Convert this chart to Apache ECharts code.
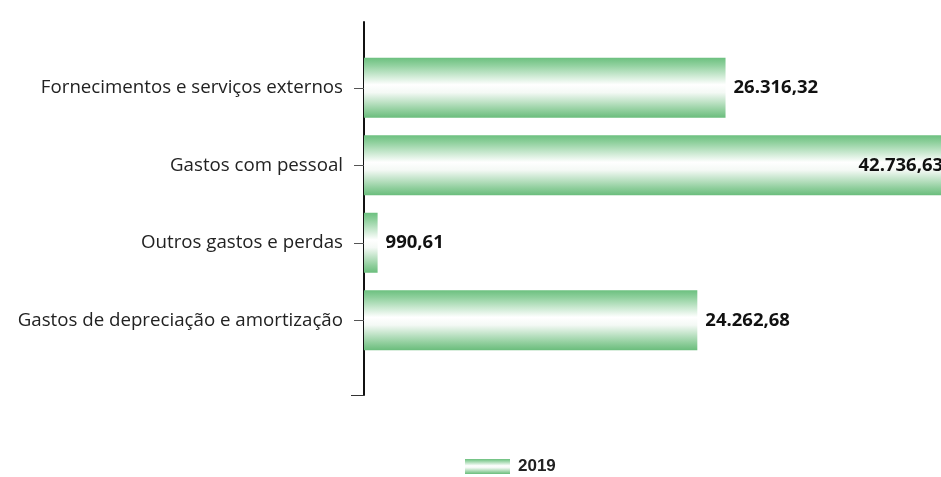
<!DOCTYPE html>
<html>
<head>
<meta charset="utf-8">
<script src="https://cdn.jsdelivr.net/npm/echarts@6/dist/echarts.min.js"></script>
<style>
  html, body { margin: 0; padding: 0; background: #fff; }
  #chart { width: 941px; height: 477px; }
</style>
</head>
<body>
<div id="chart"></div>
<script>
const categories = [
  'Fornecimentos e serviços externos',
  'Gastos com pessoal',
  'Outros gastos e perdas',
  'Gastos de depreciação e amortização'
]
const values2019 = [26316.32, 42736.63, 990.61, 24262.68]
const seriesName = '2019'

// formato português: 26.316,32
function fmt(v) {
  return v.toLocaleString('de-DE', { minimumFractionDigits: 2, maximumFractionDigits: 2 })
}

const barGradient = new echarts.graphic.LinearGradient(0, 0, 0, 1, [
  { offset: 0, color: '#6cc07f' },
  { offset: 0.12, color: '#8fd09d' },
  { offset: 0.45, color: '#ffffff' },
  { offset: 0.58, color: '#f4f9f5' },
  { offset: 0.88, color: '#8fce9c' },
  { offset: 1, color: '#6abd7c' }
])

const myChart = echarts.init(document.getElementById('chart'))
const option = {
  animation: false,
  legend: {
    top: 453,
    left: 460,
    icon: 'rect',
    itemWidth: 45,
    itemHeight: 15,
    itemGap: 10,
    textStyle: { fontFamily: 'Liberation Sans', fontWeight: 'bold', fontSize: 17, color: '#222', padding: [0, 0, 0, 3] },
    data: [seriesName]
  },
  grid: [
    // só para a linha vertical do eixo
    { left: 364, top: 22, height: 373, width: 10 },
    // barras (a maior passa da margem direita, como no original)
    { left: 364, top: 49, height: 310, right: 0 }
  ],
  xAxis: [
    { gridIndex: 0, type: 'value', show: false },
    { gridIndex: 1, type: 'value', min: 0, max: 42000, show: false }
  ],
  yAxis: [
    {
      gridIndex: 0,
      type: 'category',
      data: ['', ''],
      boundaryGap: false,
      axisLine: { show: true, lineStyle: { color: '#111', width: 2 } },
      axisTick: { show: true, length: 13, interval: (i) => i === 0, lineStyle: { color: '#333' } },
      axisLabel: { show: false }
    },
    {
      gridIndex: 1,
      type: 'category',
      inverse: true,
      data: categories,
      axisLine: { show: false },
      axisTick: { show: true, alignWithLabel: true, length: 10, lineStyle: { color: '#555' } },
      axisLabel: { margin: 21, fontFamily: 'Open Sans', fontSize: 18.7, color: '#222' }
    }
  ],
  series: [
    {
      name: seriesName,
      type: 'bar',
      xAxisIndex: 1,
      yAxisIndex: 1,
      barWidth: 60,
      clip: false,
      data: values2019.map((v, i) => ({
        value: v,
        label: i === 1 ? { position: 'insideRight', distance: 8 } : {}
      })),
      itemStyle: { color: barGradient },
      label: {
        show: true,
        position: 'right',
        distance: 8,
        fontFamily: 'Open Sans',
        fontWeight: 'bold',
        fontSize: 18.5,
        color: '#111',
        formatter: (p) => fmt(p.value)
      }
    }
  ]
}

option && myChart.setOption(option)
</script>
</body>
</html>
